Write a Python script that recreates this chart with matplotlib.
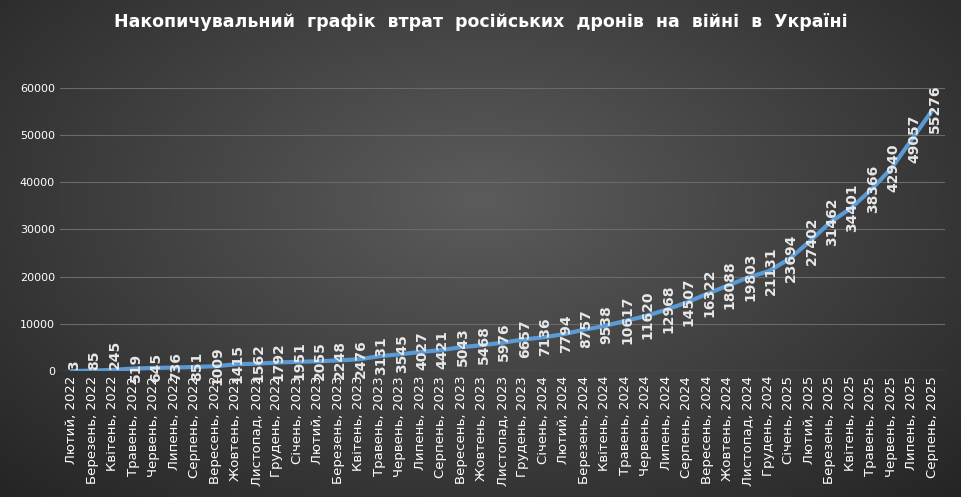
import matplotlib
matplotlib.use("Agg")
import matplotlib.pyplot as plt
import numpy as np

seq = ["Лютий","Березень","Квітень","Травень","Червень","Липень","Серпень","Вересень","Жовтень","Листопад","Грудень"]
full = ["Січень"] + seq
labels = [f"{m}, 2022" for m in seq]
labels += [f"{m}, 2023" for m in full]
labels += [f"{m}, 2024" for m in full]
labels += [f"{m}, 2025" for m in full[:8]]

values = [3, 85, 245, 519, 645, 736, 851, 1009, 1415, 1562, 1792, 1951, 2055, 2248, 2476,
          3131, 3545, 4027, 4421, 5043, 5468, 5976, 6657, 7136, 7794, 8757, 9538, 10617,
          11620, 12968, 14507, 16322, 18088, 19803, 21131, 23694, 27402, 31462, 34401,
          38366, 42940, 49057, 55276]
yticks = [0, 10000, 20000, 30000, 40000, 50000, 60000]

fig = plt.figure(figsize=(9.62, 4.97), dpi=100)
bg = fig.add_axes([0, 0, 1, 1], zorder=-10)
yy, xx = np.mgrid[0:497, 0:962]
d = np.sqrt(((xx - 481) / 700.0) ** 2 + ((yy - 200) / 420.0) ** 2)
g = np.clip(0.36 - 0.22 * d, 0.1, 0.4)
bg.imshow(np.dstack([g, g, g]), aspect="auto", extent=[0, 1, 0, 1])
bg.axis("off")

ax = fig.add_axes([0.062, 0.2535, 0.92, 0.57])
ax.patch.set_alpha(0)
x = np.arange(len(values))
ax.plot(x, values, color="#5b9bd5", lw=3, solid_capstyle="round")
for xi, v in zip(x, values):
    ax.text(xi + 0.1, v + 200, str(v), rotation=90, ha="center", va="center" if v > 500 else "bottom",
            color="#e8e8e8", fontsize=10, fontweight="bold")
ax.set_xlim(-0.6, len(values) - 0.4)
ax.set_ylim(0, 60000)
ax.set_yticks(yticks)
ax.set_yticklabels([str(t) for t in yticks], color="white", fontsize=8)
ax.set_xticks(x)
ax.set_xticklabels(labels, rotation=90, color="white", fontsize=9.5)
ax.grid(axis="y", color="#6a6a6a", lw=0.8)
ax.tick_params(length=0)
for s in ax.spines.values():
    s.set_visible(False)
ax.axhline(0, color="#8a8a8a", lw=0.8)
fig.text(0.5, 0.955, "Накопичувальний  графік  втрат  російських  дронів  на  війні  в  Україні",
         ha="center", va="center", color="white", fontsize=12.5, fontweight="bold")
fig.savefig("out.png", dpi=100)
